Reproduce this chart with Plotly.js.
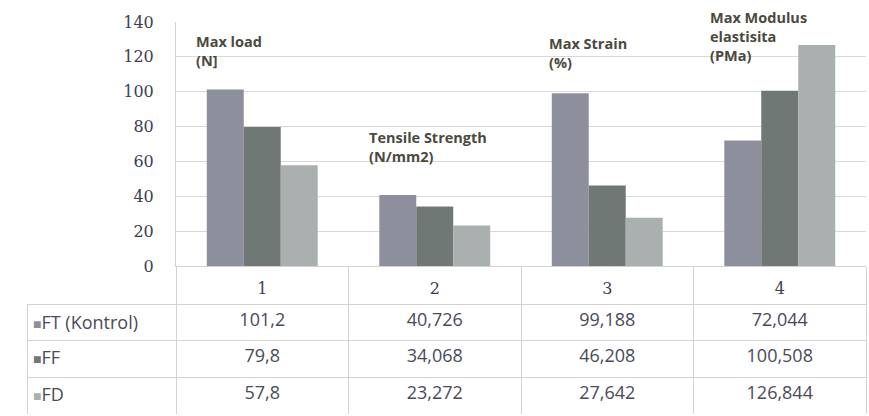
<!DOCTYPE html>
<html>
<head>
<meta charset="utf-8">
<script src="https://cdn.plot.ly/plotly-3.0.1.min.js"></script>
<style>html,body{margin:0;padding:0;background:#fff;}#chart{width:869px;height:416px;}</style>
</head>
<body>
<div id="chart"></div>
<script>
// ---- data ----
var categories = ['1', '2', '3', '4'];
var seriesNames = ['FT (Kontrol)', 'FF', 'FD'];
var ftValues = [101.2, 40.726, 99.188, 72.044];
var ffValues = [79.8, 34.068, 46.208, 100.508];
var fdValues = [57.8, 23.272, 27.642, 126.844];
var yTickValues = [0, 20, 40, 60, 80, 100, 120, 140];
var measureLabels = ['Max load<br>(N]', 'Tensile Strength<br>(N/mm2)', 'Max Strain<br>(%)', 'Max Modulus<br>elastisita<br>(PMa)'];

// ---- styling ----
var seriesColors = ['#8e8f9d', '#707875', '#a9b0af'];
var seriesValues = [ftValues, ffValues, fdValues];
var W = 869, H = 416;
function px(x) { return x / W; }
function py(y) { return 1 - y / H; }
function fmt(v) { return String(v).replace('.', ','); }

var traces = seriesNames.map(function (name, i) {
  return {
    type: 'bar',
    name: name,
    x: categories,
    y: seriesValues[i],
    marker: { color: seriesColors[i], line: { width: 0 } },
    showlegend: false,
    hoverinfo: 'x+y+name'
  };
});

// data table (first series row used as table header row so all rows look identical);
// the label column text is drawn as annotations (with the colour key)
var rows = seriesNames.map(function (name, i) {
  return [''].concat(seriesValues[i].map(fmt));
});
var headerVals = rows[0].map(function (v) { return [v]; });
var cellCols = [];
for (var c = 0; c < rows[0].length; c++) {
  cellCols.push(rows.slice(1).map(function (r) { return r[c]; }));
}
var tableFont = { family: 'Open Sans, sans-serif', size: 18, color: '#4a4a58' };
traces.push({
  type: 'table',
  domain: { x: [px(27), px(866)], y: [py(414), py(304)] },
  columnwidth: [149, 172.5, 172.5, 172.5, 172.5],
  header: {
    values: headerVals,
    align: ['left', 'center', 'center', 'center', 'center'],
    height: 36,
    fill: { color: '#ffffff' },
    line: { color: '#d2d2d2', width: 1 },
    font: tableFont
  },
  cells: {
    values: cellCols,
    align: ['left', 'center', 'center', 'center', 'center'],
    height: 37,
    fill: { color: '#ffffff' },
    line: { color: '#d2d2d2', width: 1 },
    font: tableFont
  }
});

var labelPos = [[194, 30], [367, 126], [547, 32], [708, 6]];
var annotations = measureLabels.map(function (t, i) {
  return {
    xref: 'paper', yref: 'paper',
    x: px(labelPos[i][0]), y: py(labelPos[i][1]),
    xanchor: 'left', yanchor: 'top', align: 'left',
    text: '<b>' + t + '</b>',
    showarrow: false,
    font: { family: 'Open Sans, sans-serif', size: 14.5, color: '#4b4a3e' }
  };
});
// row labels with colour keys in the table's label column
var rowLabelY = [322, 357, 394];
seriesNames.forEach(function (name, i) {
  annotations.push({
    xref: 'paper', yref: 'paper',
    x: px(31), y: py(rowLabelY[i]),
    xanchor: 'left', yanchor: 'middle', align: 'left',
    text: '<span style="color:' + seriesColors[i] + ';font-size:14px">■</span>' + name,
    showarrow: false,
    font: tableFont
  });
});

var layout = {
  width: W, height: H,
  margin: { l: 0, r: 0, t: 0, b: 0 },
  paper_bgcolor: '#ffffff',
  plot_bgcolor: '#ffffff',
  barmode: 'group',
  bargap: 0.357,
  bargroupgap: 0,
  showlegend: false,
  xaxis: {
    domain: [px(176), px(866)],
    type: 'category',
    categoryorder: 'array',
    categoryarray: categories,
    tickson: 'boundaries',
    ticks: 'outside',
    ticklen: 38,
    tickcolor: '#d2d2d2',
    tickwidth: 1,
    showgrid: false,
    showline: true,
    linecolor: '#d2d2d2',
    linewidth: 1,
    ticklabelstandoff: 8,
    tickfont: { family: 'DejaVu Serif, serif', size: 16, color: '#3e3e4e' },
    fixedrange: true
  },
  yaxis: {
    domain: [py(266), py(22)],
    range: [0, 140],
    tickvals: yTickValues,
    showgrid: true,
    gridcolor: '#d8d8d8',
    gridwidth: 1,
    zeroline: false,
    showline: true,
    linecolor: '#d2d2d2',
    ticks: '',
    ticklabelstandoff: 18,
    tickfont: { family: 'DejaVu Serif, serif', size: 16, color: '#3e3e4e' },
    fixedrange: true
  },
  annotations: annotations
};

Plotly.newPlot('chart', traces, layout, { displayModeBar: false, staticPlot: true });
</script>
</body>
</html>
